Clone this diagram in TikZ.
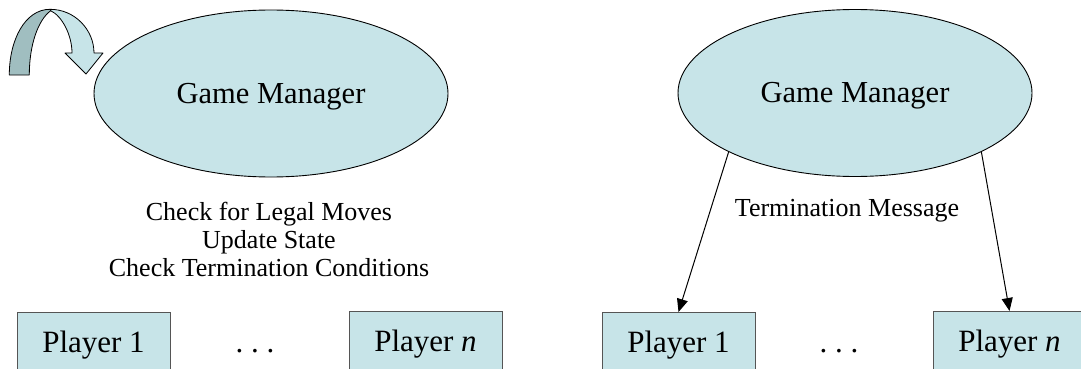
\documentclass[tikz,border=0pt]{standalone}
\usepackage{fontspec}
\setmainfont{Liberation Serif}
\usetikzlibrary{shapes.geometric,arrows.meta}
\definecolor{lightcyan}{RGB}{199,228,232}
\definecolor{darkcyan}{RGB}{160,190,192}
\definecolor{boxline}{RGB}{85,85,85}
\tikzset{
  mgr/.style={ellipse, draw=black, line width=0.9pt, fill=lightcyan,
    minimum width=354pt, minimum height=167pt, inner sep=0pt,
    text height=24pt, text depth=5pt, font=\fontsize{30.5}{36}\selectfont},
  pbox/.style={rectangle, draw=boxline, line width=1pt, fill=lightcyan,
    minimum width=153pt, inner xsep=0pt, inner ysep=18pt,
    text height=22pt, text depth=7pt, anchor=north,
    font=\fontsize{31}{36}\selectfont},
  lbl/.style={font=\fontsize{26}{28}\selectfont, inner sep=0pt},
  dotsl/.style={font=\fontsize{31}{36}\selectfont, inner sep=0pt, anchor=base},
  arr/.style={line width=1pt, -{Triangle[length=13pt,width=11pt]}},
  curvearr/.style={draw=black, line width=0.8pt, line join=round}
}
\begin{document}
\begin{tikzpicture}[x=1pt,y=-1pt]
\useasboundingbox (0,0) rectangle (1081,369);
\clip (0,0) rectangle (1081,369);
\fill[white] (0,0) rectangle (1081,369);

% ---------- left panel ----------
% curved self-loop arrow
\path[curvearr, fill=darkcyan] (9.3,75) .. controls (9.3,40) and (25,9.3) .. (50,9.3)
  -- (50.7,10.7) .. controls (38,20) and (29.3,45) .. (29.3,75) -- cycle;
\path[curvearr, fill=lightcyan] (50,9.3) .. controls (75,9.3) and (94,30) .. (94,53)
  -- (103,53) -- (86,74) -- (65,53) -- (72,53)
  .. controls (72,35) and (62,16) .. (50.7,10.7) -- cycle;

\node[mgr] (gmL) at (271,93.5) {Game Manager};
\node[lbl, align=center] (actions) at (269,239)
  {Check for Legal Moves\\Update State\\Check Termination Conditions};
\node[pbox] (p1L) at (93.5,312) {Player 1};
\node[dotsl] (dotsL) at (255,352) {.\ .\ .};
\node[pbox] (pnL) at (425.5,311) {Player \textit{n}};

% ---------- right panel ----------
\node[mgr] (gmR) at (855,93) {Game Manager};
\node[pbox] (p1R) at (678.5,312) {Player 1};
\node[dotsl] (dotsR) at (839,352) {.\ .\ .};
\node[pbox] (pnR) at (1009.5,311) {Player \textit{n}};
\node[lbl, anchor=base] (term) at (847,216) {Termination Message};

\draw[arr] (gmR.205.6) -- (p1R.north);
\draw[arr] (gmR.-25) -- (pnR.north);
\end{tikzpicture}
\end{document}
